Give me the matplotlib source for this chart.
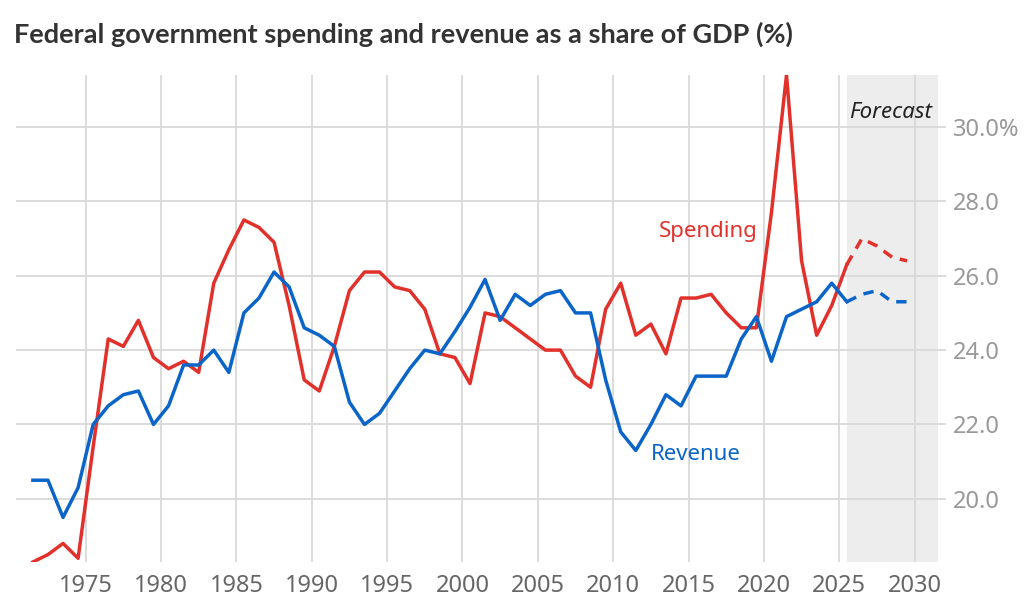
import numpy as np
import matplotlib
matplotlib.use("Agg")
import matplotlib.pyplot as plt

plt.rcParams['font.family'] = ['Noto Sans', 'DejaVu Sans']

years = np.arange(1971, 2026)
spending = [18.3, 18.5, 18.8, 18.4, 21.4, 24.3, 24.1, 24.8, 23.8, 23.5,
            23.7, 23.4, 25.8, 26.7, 27.5, 27.3, 26.9, 25.2, 23.2, 22.9,
            24.1, 25.6, 26.1, 26.1, 25.7, 25.6, 25.1, 23.9, 23.8, 23.1,
            25.0, 24.9, 24.6, 24.3, 24.0, 24.0, 23.3, 23.0, 25.1, 25.8,
            24.4, 24.7, 23.9, 25.4, 25.4, 25.5, 25.0, 24.6, 24.6, 27.7,
            31.4, 26.4, 24.4, 25.2, 26.3]
revenue = [20.5, 20.5, 19.5, 20.3, 22.0, 22.5, 22.8, 22.9, 22.0, 22.5,
           23.6, 23.6, 24.0, 23.4, 25.0, 25.4, 26.1, 25.7, 24.6, 24.4,
           24.1, 22.6, 22.0, 22.3, 22.9, 23.5, 24.0, 23.9, 24.5, 25.15,
           25.9, 24.8, 25.5, 25.2, 25.5, 25.6, 25.0, 25.0, 23.2, 21.8,
           21.3, 22.0, 22.8, 22.5, 23.3, 23.3, 23.3, 24.3, 24.9, 23.7,
           24.9, 25.1, 25.3, 25.8, 25.3]

fc_years = np.arange(2025, 2030)
fc_spending = [26.3, 27.0, 26.8, 26.5, 26.4]
fc_revenue = [25.3, 25.5, 25.6, 25.3, 25.3]

yticks = [20, 22, 24, 26, 28, 30]
xticks = [1975, 1980, 1985, 1990, 1995, 2000, 2005, 2010, 2015, 2020, 2025, 2030]

red = '#e2302b'
blue = '#0b65c8'

fig = plt.figure(figsize=(10.24, 6.1), dpi=100)
ax = fig.add_axes([16 / 1024, 1 - 562 / 610, 922 / 1024, 487 / 610])

# fiscal years are plotted mid-year
ax.axvspan(2025.5, 2031.55, color='#ededed', zorder=0, lw=0)
ax.plot(years + 0.5, spending, color=red, lw=2.5, zorder=3)
ax.plot(years + 0.5, revenue, color=blue, lw=2.5, zorder=3)
ax.plot(fc_years + 0.5, fc_spending, color=red, lw=2.5, ls=(0, (3, 2.3)), zorder=3)
ax.plot(fc_years + 0.5, fc_revenue, color=blue, lw=2.5, ls=(0, (3, 2.3)), zorder=3)

ax.set_xlim(1970.38, 2031.55)
ax.set_ylim(18.3, 31.4)
ax.set_axisbelow(True)
ax.grid(True, color='#d9d9d9', lw=1.3)
for s in ax.spines.values():
    s.set_visible(False)

ax.set_xticks(xticks)
ax.set_yticks(yticks)
ax.set_yticklabels([f"{v:.1f}%" if v == 30 else f"{v:.1f}" for v in yticks])
ax.yaxis.tick_right()
ax.tick_params(axis='y', length=5.5, width=1.3, color='#d9d9d9', pad=5,
               labelsize=17, labelcolor='#999999')
ax.tick_params(axis='x', length=0, pad=9, labelsize=17, labelcolor='#666666')

ax.text(2016.3, 27.2, "Spending", color=red, fontsize=16, ha='center', va='center')
ax.text(2015.5, 21.18, "Revenue", color=blue, fontsize=16, ha='center', va='center')
ax.text(2025.65, 30.38, "Forecast", color='#222222', fontsize=16, style='italic',
        ha='left', va='center')

fig.text(14 / 1024, 1 - 34 / 610, "Federal government spending and revenue as a share of GDP (%)",
         fontsize=19.5, fontweight='bold', color='#333333', ha='left', va='center',
         family=['Lato', 'DejaVu Sans'])

fig.savefig("out.png", dpi=100)
